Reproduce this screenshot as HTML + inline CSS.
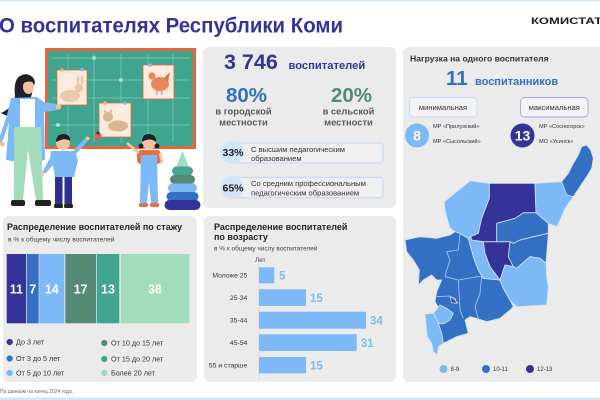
<!DOCTYPE html>
<html><head><meta charset="utf-8">
<style>
html,body{margin:0;padding:0;background:#fff;}
svg{display:block;font-family:"Liberation Sans","Noto Sans CJK SC",sans-serif;}
</style></head>
<body>
<svg width="600" height="400" viewBox="0 0 600 400" xmlns="http://www.w3.org/2000/svg">
<rect x="0" y="0" width="600" height="400" fill="#fff"/>
<rect x="0" y="0" width="600" height="1.5" fill="#d3e5f8"/>
<rect x="0" y="397.5" width="600" height="2.5" fill="#d3e5f8"/>

<!-- Title -->
<text x="-1" y="32.5" font-size="21.5" font-weight="bold" fill="#343399" textLength="344" lengthAdjust="spacingAndGlyphs">О воспитателях Республики Коми</text>
<text x="531" y="24" font-size="9" font-weight="bold" fill="#1a1a1a" textLength="71" lengthAdjust="spacingAndGlyphs">КОМИСТАТ</text>

<!-- Panels -->
<rect x="203" y="47" width="193" height="161" rx="6" fill="#ebebeb"/>
<rect x="403" y="47" width="205" height="335" rx="6" fill="#ebebeb"/>
<rect x="3" y="216" width="194" height="166" rx="6" fill="#ebebeb"/>
<rect x="204" y="216" width="192" height="166" rx="6" fill="#ebebeb"/>

<!-- ===== Illustration ===== -->
<g>
  <rect x="46.5" y="49.5" width="148" height="98" fill="#40a58f" stroke="#e2673f" stroke-width="3"/>
  <g stroke="#8ad2be" stroke-width="0.7" opacity="0.9">
    <line x1="68" y1="54" x2="68" y2="142"/>
    <line x1="94" y1="54" x2="94" y2="142"/>
    <line x1="121" y1="54" x2="121" y2="142"/>
    <line x1="148" y1="54" x2="148" y2="142"/>
    <line x1="173" y1="54" x2="173" y2="142"/>
    <line x1="52" y1="58" x2="190" y2="58"/>
    <line x1="52" y1="80" x2="190" y2="80"/>
    <line x1="52" y1="98" x2="190" y2="98"/>
    <line x1="52" y1="125" x2="190" y2="125"/>
  </g>
  <circle cx="94" cy="58" r="2" fill="#a9e0d0"/>
  <circle cx="121" cy="80" r="2" fill="#a9e0d0"/>
  <circle cx="58" cy="125" r="2" fill="#a9e0d0"/>
  <!-- rabbit card -->
  <rect x="57" y="70" width="30" height="35" fill="#fdebdd" stroke="#e2673f" stroke-width="0.8"/>
  <ellipse cx="70" cy="96" rx="10" ry="6" fill="#ebc8aa"/>
  <circle cx="79" cy="88" r="4.2" fill="#ebc8aa"/>
  <ellipse cx="78" cy="80" rx="1.5" ry="5" fill="#ebc8aa"/>
  <ellipse cx="82" cy="80" rx="1.5" ry="5" fill="#ebc8aa"/>
  <circle cx="62" cy="70" r="1.8" fill="#f2b45e"/>
  <circle cx="82" cy="69.5" r="1.8" fill="#7cb9f6"/>
  <!-- chicken card -->
  <rect x="143" y="65" width="31" height="34" fill="#fdebdd" stroke="#e2673f" stroke-width="0.8"/>
  <ellipse cx="160" cy="84" rx="9" ry="7" fill="#e8875b"/>
  <circle cx="152" cy="76" r="3.6" fill="#e8875b"/>
  <path d="M164,78 L170,72 L168,82 Z" fill="#d9734a"/>
  <line x1="157" y1="90" x2="157" y2="95" stroke="#c9643f" stroke-width="0.8"/>
  <line x1="162" y1="90" x2="162" y2="95" stroke="#c9643f" stroke-width="0.8"/>
  <circle cx="150" cy="65" r="1.8" fill="#7cb9f6"/>
  <!-- cat card -->
  <rect x="99" y="103" width="32" height="34" fill="#fdebdd" stroke="#e2673f" stroke-width="0.8"/>
  <ellipse cx="118" cy="126" rx="10" ry="5.5" fill="#dcb690"/>
  <circle cx="108" cy="117" r="5" fill="#dcb690"/>
  <path d="M104,113 L104.5,109 L107,112 Z M109,112 L112,109 L112,113 Z" fill="#dcb690"/>
  <circle cx="105" cy="103" r="1.8" fill="#f2b45e"/>
  <circle cx="125" cy="103" r="1.8" fill="#7cb9f6"/>
  <!-- ladybug -->
  <circle cx="98" cy="136" r="3.6" fill="#e55a5e"/>
  <circle cx="98" cy="133" r="1.5" fill="#333"/>

  <!-- teacher -->
  <path d="M22,75 Q13,78 15,96 Q13,108 1,113 Q9,118 17,115 Q21,121 27,117 L31,97 L35,82 Q31,72 22,75 Z" fill="#1e1e2c"/>
  <ellipse cx="28.5" cy="87" rx="5.5" ry="7" fill="#f2c3a2"/>
  <path d="M22,84 Q23,75 30,76 Q35,77 34.5,84 Q30,79 22,84 Z" fill="#1e1e2c"/>
  <polygon points="11,98 37,97 44,102 57,104 57,110 44,112 45,160 36,162 36,128 20,128 18,162 6,160 9,122 3,140 0,144 0,136 7,115" fill="#7cb9f6"/>
  <rect x="20" y="99" width="15" height="29" fill="#fff"/>
  <polygon points="14,127 41,127 43,200 36,200 28,150 23,200 14,200" fill="#a3dcbb"/>
  <rect x="11" y="200" width="14" height="6" rx="2" fill="#222"/>
  <rect x="35" y="200" width="16" height="6" rx="2" fill="#222"/>
  <circle cx="58.5" cy="107" r="2.6" fill="#f2c3a2"/>
  <circle cx="2.5" cy="144" r="2.6" fill="#f2c3a2"/>

  <!-- boy -->
  <circle cx="63" cy="143" r="7" fill="#f2c3a2"/>
  <path d="M56,142 Q56,134 64,134 Q71,135 70,141 Q65,137 56,142 Z" fill="#1e1e2c"/>
  <polygon points="51,151 75,151 78,160 74,177 55,177 53,165 46,173 42,173 50,158" fill="#7cb9f6"/>
  <line x1="73" y1="154" x2="86" y2="140" stroke="#7cb9f6" stroke-width="4"/>
  <circle cx="87.5" cy="138.5" r="2" fill="#f2c3a2"/>
  <circle cx="42" cy="174" r="2" fill="#f2c3a2"/>
  <rect x="55" y="177" width="7.5" height="28" fill="#2f2f8f"/>
  <rect x="64.5" y="177" width="7.5" height="28" fill="#2f2f8f"/>
  <rect x="54" y="204" width="9" height="4" rx="1.5" fill="#222"/>
  <rect x="64" y="204" width="9" height="4" rx="1.5" fill="#222"/>

  <!-- girl -->
  <circle cx="149" cy="142.5" r="7" fill="#f2c3a2"/>
  <path d="M142,142 Q142,134 149,134 Q157,135 156,142 Q150,137 142,142 Z" fill="#1e1e2c"/>
  <circle cx="141" cy="146" r="2.5" fill="#1e1e2c"/>
  <circle cx="157" cy="146" r="2.5" fill="#1e1e2c"/>
  <rect x="137" y="150" width="24" height="14" rx="4" fill="#e8703e"/>
  <line x1="139" y1="153" x2="127" y2="143" stroke="#f2c3a2" stroke-width="2.6"/>
  <line x1="160" y1="153" x2="162" y2="163" stroke="#f2c3a2" stroke-width="2.6"/>
  <polygon points="141,155 157,155 158,203 151,203 149,182 147,203 140,203" fill="#7cb9f6"/>
  <rect x="139" y="203" width="9" height="4" rx="1.5" fill="#e8703e"/>
  <rect x="150" y="203" width="9" height="4" rx="1.5" fill="#e8703e"/>

  <!-- pyramid -->
  <polygon points="182.5,151 189,167 176,167" fill="#a3dcbb"/>
  <rect x="172" y="166.5" width="21" height="9" rx="4.5" fill="#45a692"/>
  <rect x="170" y="175" width="25" height="9" rx="4.5" fill="#568a77"/>
  <rect x="168" y="183.5" width="29" height="9" rx="4.5" fill="#7cb9f6"/>
  <rect x="166.5" y="192" width="32" height="9" rx="4.5" fill="#3370c4"/>
  <rect x="164.5" y="200" width="36" height="10" rx="5" fill="#343399"/>
</g>

<!-- ===== Middle top panel ===== -->
<text x="224" y="69" font-size="21.5" font-weight="bold" fill="#343399">3 746</text>
<text x="288.5" y="69" font-size="11.2" font-weight="bold" fill="#343399">воспитателей</text>
<text x="246.5" y="102" font-size="20.5" font-weight="bold" fill="#3370c4" text-anchor="middle">80%</text>
<text x="243.5" y="114.5" font-size="9.4" font-weight="bold" fill="#595959" text-anchor="middle">в городской</text>
<text x="243.5" y="125.5" font-size="9.4" font-weight="bold" fill="#595959" text-anchor="middle">местности</text>
<text x="351.5" y="102" font-size="20.5" font-weight="bold" fill="#4e8b73" text-anchor="middle">20%</text>
<text x="348.5" y="114.5" font-size="9.4" font-weight="bold" fill="#595959" text-anchor="middle">в сельской</text>
<text x="348.5" y="125.5" font-size="9.4" font-weight="bold" fill="#595959" text-anchor="middle">местности</text>

<rect x="233" y="143" width="150" height="20" rx="3" fill="#efefef" stroke="#b9d4f1" stroke-width="0.8"/>
<circle cx="232.3" cy="152.3" r="11.7" fill="#d2e5fa"/>
<text x="233" y="156" font-size="10.5" font-weight="bold" fill="#222" text-anchor="middle">33%</text>
<text x="251" y="152" font-size="7.6" fill="#333">С высшим педагогическим</text>
<text x="251" y="161" font-size="7.6" fill="#333">образованием</text>

<rect x="233" y="177.3" width="150" height="20.5" rx="3" fill="#efefef" stroke="#b9d4f1" stroke-width="0.8"/>
<circle cx="232.3" cy="187.5" r="11.7" fill="#d2e5fa"/>
<text x="233" y="191.3" font-size="10.5" font-weight="bold" fill="#222" text-anchor="middle">65%</text>
<text x="251" y="186" font-size="7.6" fill="#333">Со средним профессиональным</text>
<text x="251" y="195.5" font-size="7.6" fill="#333">педагогическим образованием</text>

<!-- ===== Right panel ===== -->
<text x="410" y="61.5" font-size="8.6" font-weight="bold" fill="#333">Нагрузка на одного воспитателя</text>
<text x="446" y="85" font-size="20.5" font-weight="bold" fill="#3370c4">11</text>
<text x="475" y="85" font-size="11" font-weight="bold" fill="#3370c4">воспитанников</text>

<rect x="409.5" y="97.5" width="67.5" height="19.5" rx="4" fill="#f3f3f4" stroke="#c3dbf4" stroke-width="0.9"/>
<text x="443" y="110" font-size="7.6" fill="#333" text-anchor="middle">минимальная</text>
<rect x="520.5" y="97.5" width="67.5" height="19.5" rx="4" fill="#f3f3f4" stroke="#aaa5d5" stroke-width="0.9"/>
<text x="554.3" y="110" font-size="7.6" fill="#333" text-anchor="middle">максимальная</text>

<circle cx="417" cy="135.5" r="12" fill="#7cb9f6"/>
<text x="417" y="140.5" font-size="14" font-weight="bold" fill="#fff" text-anchor="middle">8</text>
<text x="433" y="128" font-size="5.6" fill="#333">МР «Прилузский»</text>
<text x="433" y="143" font-size="5.6" fill="#333">МР «Сысольский»</text>

<circle cx="522.5" cy="135.5" r="12" fill="#343399"/>
<text x="522.5" y="140.5" font-size="14" font-weight="bold" fill="#fff" text-anchor="middle">13</text>
<text x="539" y="128" font-size="5.6" fill="#333">МР «Сосногорск»</text>
<text x="539" y="143" font-size="5.6" fill="#333">МО «Усинск»</text>

<!-- Map -->
<svg x="400" y="140" width="200" height="260" viewBox="0 -90 600 780">
  <g stroke="#d3e3f6" stroke-width="2.5" stroke-linejoin="round">
    <polygon fill="#3370c4" points="15,210 60,200 110,205 150,195 165,185 180,190 205,205 220,260 235,300 250,325 300,330 310,355 330,390 340,410 330,420 300,445 260,455 230,445 210,440 195,450 205,490 170,500 130,520 125,490 115,460 140,435 120,420 105,395 110,365 125,330 110,330 95,315 70,330 55,345 58,300 40,270 20,245"/>
    <polygon fill="#7cb9f6" points="205,205 212,200 215,210 250,215 255,250 270,290 285,310 300,330 250,325 235,300 220,260"/>
    <polygon fill="#343399" points="250,215 330,215 325,260 340,290 315,285 300,330 285,310 270,290 255,250"/>
    <polygon fill="#3370c4" points="330,215 340,220 360,210 400,200 445,190 438,280 420,265 390,260 350,295 340,290 325,260"/>
    <polygon fill="#7cb9f6" points="300,330 315,285 340,290 350,295 390,260 420,265 438,280 440,320 445,350 440,405 350,410 330,390 310,355"/>
    <polygon fill="#3370c4" points="290,160 345,145 370,128 408,128 445,160 445,190 400,200 360,210 340,220 330,215 290,215"/>
    <polygon fill="#7cb9f6" points="133,95 210,33 268,40 268,85 245,145 235,190 212,200 205,205 180,190 165,185 150,175 140,140 135,120"/>
    <polygon fill="#343399" points="268,40 405,40 408,128 370,128 345,145 290,160 290,215 250,215 215,210 212,200 235,190 245,145 268,85"/>
    <polygon fill="#7cb9f6" points="405,40 485,35 520,80 495,115 480,150 470,170 445,160 408,128"/>
    <polygon fill="#3370c4" points="545,-70 560,-75 572,-60 580,-35 575,-5 560,20 540,50 520,80 500,75 485,35 505,10 520,-20 535,-45"/>
    <polygon fill="#7cb9f6" points="120,405 140,415 160,430 150,450 130,462 115,460 100,430"/>
    <polygon fill="#7cb9f6" points="75,432 100,430 115,460 125,490 130,520 115,530 112,555 100,545 95,520 82,500"/>
    <polygon fill="#343399" points="150,380 165,385 170,400 155,398"/>
  </g>
  <g fill="none" stroke="#a9c8ee" stroke-width="2.5" stroke-linejoin="round">
    <polyline points="180,190 175,240 140,245 150,270 140,300 135,320"/>
    <polyline points="135,320 175,330 245,318"/>
    <polyline points="175,330 180,420 190,445"/>
    <polyline points="245,318 240,370 225,410 235,445"/>
    <polyline points="110,380 150,378 175,400"/>
  </g>
</svg>
<circle cx="443.5" cy="369" r="4" fill="#7cb9f6"/>
<text x="450.5" y="371" font-size="6" fill="#333">8-9</text>
<circle cx="486" cy="369" r="4" fill="#3370c4"/>
<text x="493" y="371" font-size="6" fill="#333">10-11</text>
<circle cx="530" cy="369" r="4" fill="#343399"/>
<text x="537" y="371" font-size="6" fill="#333">12-13</text>

<!-- ===== Left bottom: experience ===== -->
<text x="7" y="230" font-size="9" font-weight="bold" fill="#222">Распределение воспитателей по стажу</text>
<text x="8" y="241.5" font-size="6.7" fill="#444">в % к общему числу воспитателей</text>
<rect x="6.7" y="254" width="19.3" height="69.3" fill="#343399"/>
<rect x="26.7" y="254" width="12" height="69.3" fill="#3370c4"/>
<rect x="39.3" y="254" width="25" height="69.3" fill="#7cb9f6"/>
<rect x="65.3" y="254" width="30.7" height="69.3" fill="#568a77"/>
<rect x="96.7" y="254" width="22.6" height="69.3" fill="#40a692"/>
<rect x="120.7" y="254" width="68.6" height="69.3" fill="#a3dcbc"/>
<g font-size="12.5" font-weight="bold" fill="#fff" text-anchor="middle">
  <text x="16.3" y="293.5">11</text>
  <text x="32.7" y="293.5">7</text>
  <text x="51.8" y="293.5">14</text>
  <text x="80.7" y="293.5">17</text>
  <text x="108" y="293.5">13</text>
  <text x="155" y="293.5">38</text>
</g>
<circle cx="9.7" cy="342" r="3.1" fill="#343399"/>
<circle cx="9.7" cy="358.5" r="3.1" fill="#3370c4"/>
<circle cx="9.7" cy="373" r="3.1" fill="#7cb9f6"/>
<circle cx="104.3" cy="343" r="3.1" fill="#568a77"/>
<circle cx="104.3" cy="359" r="3.1" fill="#40a692"/>
<circle cx="104.3" cy="373" r="3.1" fill="#a3dcbc"/>
<g font-size="7.2" fill="#333">
  <text x="16" y="344.5">До 3 лет</text>
  <text x="16" y="361">От 3 до 5 лет</text>
  <text x="16" y="375.5">От 5 до 10 лет</text>
  <text x="111" y="345.5">От 10 до 15 лет</text>
  <text x="111" y="361.5">От 15 до 20 лет</text>
  <text x="111" y="375.5">Более 20 лет</text>
</g>
<text x="0" y="393" font-size="5" fill="#666">По данным на конец 2024 года.</text>

<!-- ===== Middle bottom: age ===== -->
<text x="214" y="230" font-size="9" font-weight="bold" fill="#222">Распределение воспитателей</text>
<text x="214" y="240" font-size="9" font-weight="bold" fill="#222">по возрасту</text>
<text x="214" y="250.5" font-size="6.5" fill="#444">в % к общему числу воспитателей</text>
<text x="255" y="262" font-size="6.5" fill="#444">Лет</text>
<line x1="259" y1="265" x2="259" y2="380" stroke="#d0d0d0" stroke-width="0.6"/>
<g fill="#7cb9f6">
  <rect x="259" y="267.3" width="15.3" height="16"/>
  <rect x="259" y="289.3" width="47" height="16.7"/>
  <rect x="259" y="311.7" width="107" height="17"/>
  <rect x="259" y="334.3" width="97.7" height="16.7"/>
  <rect x="259" y="357" width="47" height="16.3"/>
</g>
<g font-size="6.8" fill="#333" text-anchor="end">
  <text x="247.3" y="277.5">Моложе 25</text>
  <text x="247.3" y="300">25-34</text>
  <text x="247.3" y="322.5">35-44</text>
  <text x="247.3" y="345">45-54</text>
  <text x="247.3" y="367.5">55 и старше</text>
</g>
<g font-size="11.5" font-weight="bold" fill="#7cb9f6">
  <text x="279" y="279.3">5</text>
  <text x="310" y="301.8">15</text>
  <text x="370" y="324.3">34</text>
  <text x="360.7" y="346.8">31</text>
  <text x="310" y="369.3">15</text>
</g>
</svg>
</body></html>
